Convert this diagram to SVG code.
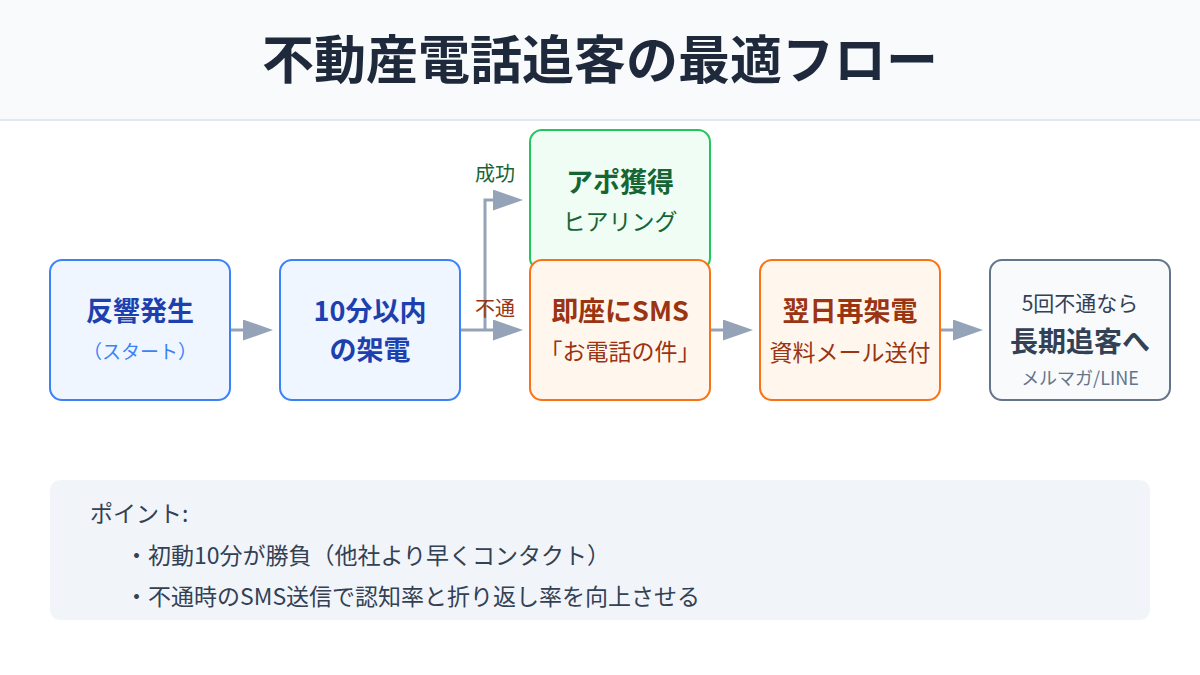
<svg xmlns="http://www.w3.org/2000/svg" width="1200" height="675" viewBox="0 0 1200 675">
<defs>
<marker id="arr" markerWidth="10" markerHeight="7" refX="0" refY="3.5" orient="auto" markerUnits="strokeWidth">
<polygon points="0 0, 10 3.5, 0 7" fill="#94a3b8"/>
</marker>
<style>
text{font-family:"Noto Sans CJK JP","Noto Sans",sans-serif;text-anchor:middle}
.box{stroke-width:2}
.blue{fill:#eff6ff;stroke:#3b82f6}
.green{fill:#f0fdf4;stroke:#22c55e}
.orange{fill:#fff7ed;stroke:#f97316}
.gray{fill:#f8fafc;stroke:#64748b}
.h{font-size:27px;font-weight:bold}
.s{font-size:23px}
.conn{fill:none;stroke:#94a3b8;stroke-width:3}
.pt{font-size:23px;fill:#334155;text-anchor:start}
</style>
</defs>
<rect width="1200" height="675" fill="#ffffff"/>
<g id="header">
<rect x="0" y="0" width="1200" height="119" fill="#f8fafc"/>
<line x1="0" y1="120" x2="1200" y2="120" stroke="#e2e8f0" stroke-width="2"/>
<text x="600" y="79" font-size="52" font-weight="bold" fill="#1e293b">不動産電話追客の最適フロー</text>
</g>
<g id="connectors">
<line class="conn" x1="230" y1="330" x2="243" y2="330" marker-end="url(#arr)"/>
<line class="conn" x1="460" y1="330" x2="493" y2="330" marker-end="url(#arr)"/>
<polyline class="conn" points="485,330 485,200 493,200" marker-end="url(#arr)"/>
<line class="conn" x1="710" y1="330" x2="723" y2="330" marker-end="url(#arr)"/>
<line class="conn" x1="940" y1="330" x2="953" y2="330" marker-end="url(#arr)"/>
<text x="495" y="181" font-size="20" fill="#166534">成功</text>
<text x="495" y="316" font-size="20" fill="#9a3412">不通</text>
</g>
<g id="node-start">
<rect class="box blue" x="50" y="260" width="180" height="140" rx="12"/>
<text class="h" x="140" y="321" fill="#1e40af">反響発生</text>
<text x="140" y="359" font-size="19" fill="#3b82f6">（スタート）</text>
</g>
<g id="node-call">
<rect class="box blue" x="280" y="260" width="180" height="140" rx="12"/>
<text class="h" x="370" y="321" fill="#1e40af">10分以内</text>
<text class="h" x="370" y="360" fill="#1e40af">の架電</text>
</g>
<g id="node-appo">
<rect class="box green" x="530" y="130" width="180" height="140" rx="12"/>
<text class="h" x="620" y="192" fill="#166534">アポ獲得</text>
<text class="s" x="620" y="230" fill="#166534">ヒアリング</text>
</g>
<g id="node-sms">
<rect class="box orange" x="530" y="260" width="180" height="140" rx="12"/>
<text class="h" x="620" y="321" fill="#9a3412">即座にSMS</text>
<text class="s" x="620" y="360" fill="#9a3412">「お電話の件」</text>
</g>
<g id="node-recall">
<rect class="box orange" x="760" y="260" width="180" height="140" rx="12"/>
<text class="h" x="850" y="321" fill="#9a3412">翌日再架電</text>
<text class="s" x="850" y="361" fill="#9a3412">資料メール送付</text>
</g>
<g id="node-long">
<rect class="box gray" x="990" y="260" width="180" height="140" rx="12"/>
<text x="1080" y="311" font-size="21" fill="#334155">5回不通なら</text>
<text x="1080" y="352" font-size="28" font-weight="bold" fill="#334155">長期追客へ</text>
<text x="1080" y="385" font-size="18" fill="#64748b">メルマガ/LINE</text>
</g>
<g id="points">
<rect x="50" y="480" width="1100" height="140" rx="10" fill="#f1f5f9"/>
<text class="pt" x="90" y="522">ポイント:</text>
<text class="pt" x="125" y="564">・初動10分が勝負（他社より早くコンタクト）</text>
<text class="pt" x="125" y="605">・不通時のSMS送信で認知率と折り返し率を向上させる</text>
</g>
</svg>
